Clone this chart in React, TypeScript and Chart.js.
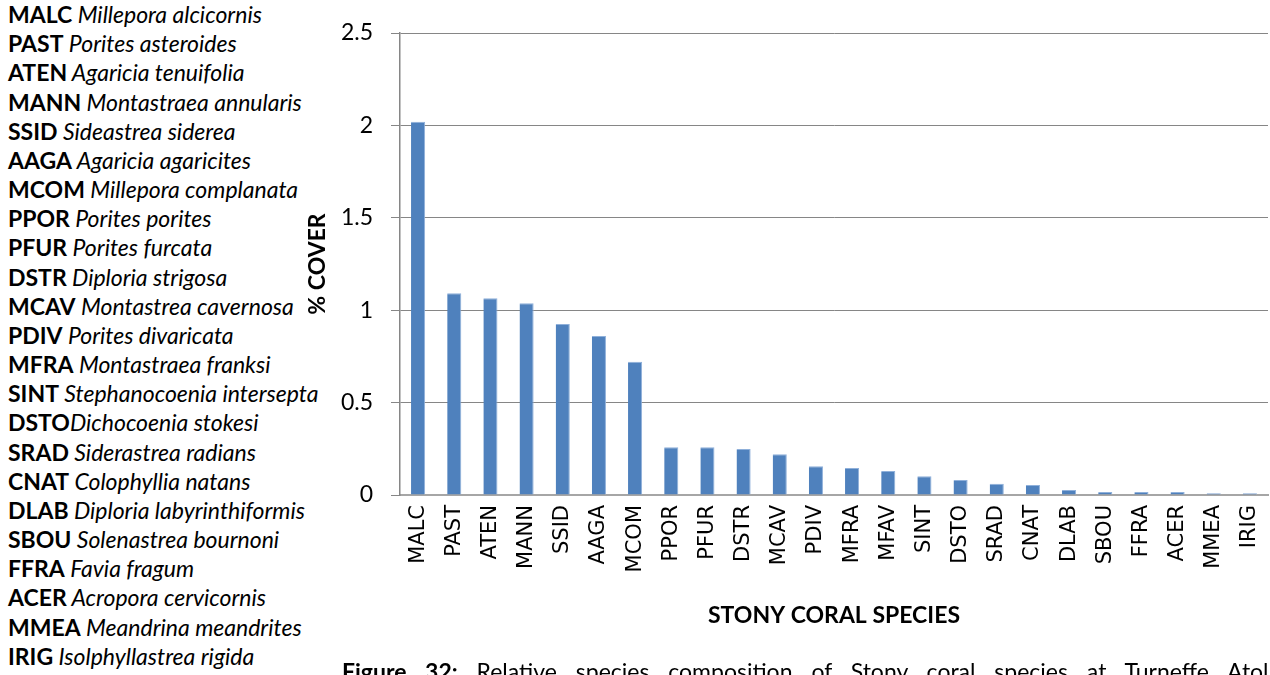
import React, { useEffect, useRef } from "react";
import { Chart, registerables } from "chart.js";

Chart.register(...registerables);

const categories = [
  "MALC", "PAST", "ATEN", "MANN", "SSID", "AAGA", "MCOM", "PPOR", "PFUR", "DSTR", "MCAV", "PDIV",
  "MFRA", "MFAV", "SINT", "DSTO", "SRAD", "CNAT", "DLAB", "SBOU", "FFRA", "ACER", "MMEA", "IRIG",
];

const coverValues = [
  2.02, 1.092, 1.065, 1.038, 0.925, 0.86, 0.721, 0.258, 0.258, 0.249, 0.22, 0.155,
  0.146, 0.13, 0.101, 0.081, 0.061, 0.054, 0.027, 0.016, 0.016, 0.016, 0.01, 0.01,
];

const yTicks = [0, 0.5, 1, 1.5, 2, 2.5];
const yTickLabels = ["0", "0.5", "1", "1.5", "2", "2.5"];

const speciesCodes = [
  "MALC", "PAST", "ATEN", "MANN", "SSID", "AAGA", "MCOM", "PPOR", "PFUR", "DSTR", "MCAV", "PDIV",
  "MFRA", "SINT", "DSTO", "SRAD", "CNAT", "DLAB", "SBOU", "FFRA", "ACER", "MMEA", "IRIG",
];
const speciesNames = [
  " Millepora alcicornis", " Porites asteroides", " Agaricia tenuifolia", " Montastraea annularis",
  " Sideastrea siderea", " Agaricia agaricites", " Millepora complanata", " Porites porites",
  " Porites furcata", " Diploria strigosa", " Montastrea cavernosa", " Porites divaricata",
  " Montastraea franksi", " Stephanocoenia intersepta", "Dichocoenia stokesi", " Siderastrea radians",
  " Colophyllia natans", " Diploria labyrinthiformis", " Solenastrea bournoni", " Favia fragum",
  " Acropora cervicornis", " Meandrina meandrites", " Isolphyllastrea rigida",
];

const yTitle = "% COVER";
const xTitle = "STONY CORAL SPECIES";
const captionBold = "Figure 32:";
const captionText = " Relative species composition of Stony coral species at Turneffe Atoll";

const FONT = "Lato, 'Open Sans', sans-serif";

export default function App() {
  const ref = useRef<HTMLCanvasElement | null>(null);

  useEffect(() => {
    if (!ref.current) return;
    const chart = new Chart(ref.current, {
      type: "bar",
      data: {
        labels: categories,
        datasets: [
          {
            data: coverValues,
            backgroundColor: "#4F81BD",
            borderColor: "#8fb0da",
            borderWidth: { top: 1, right: 1, left: 0, bottom: 0 },
            barPercentage: 0.78,
            categoryPercentage: 0.5,
          },
        ],
      },
      options: {
        animation: false,
        responsive: false,
        devicePixelRatio: 1,
        layout: { padding: { left: 303, top: 33, right: 2, bottom: 0 } },
        plugins: { legend: { display: false }, tooltip: { enabled: false } },
        scales: {
          x: {
            grid: { display: false, drawTicks: false },
            border: { display: true, color: "#a6a6a6", width: 2 },
            ticks: {
              autoSkip: false,
              maxRotation: 90,
              minRotation: 90,
              padding: 10,
              color: "#000",
              font: { family: "'DejaVu Sans', sans-serif", size: 21 },
            },
            title: {
              display: true,
              text: xTitle,
              color: "#000",
              font: { family: FONT, size: 23, weight: "bold" },
              padding: { top: 0, bottom: 46 },
            },
            afterFit: (scale: any) => {
              scale.height = 180;
              scale.paddingLeft = 0;
              scale.paddingRight = 0;
            },
          },
          y: {
            min: 0,
            max: 2.5,
            afterBuildTicks: (scale: any) => {
              scale.ticks = yTicks.map((v) => ({ value: v }));
            },
            ticks: {
              padding: 18,
              color: "#000",
              font: { family: FONT, size: 23 },
              callback: (v: any) => yTickLabels[yTicks.indexOf(Number(v))] ?? "",
            },
            grid: {
              color: "#868686",
              lineWidth: 1,
              tickLength: 9,
              tickColor: "#868686",
            },
            border: { display: true, color: "#868686", width: 1.5 },
            title: {
              display: true,
              text: yTitle,
              color: "#000",
              font: { family: FONT, size: 23, weight: "bold" },
              padding: { top: 1, bottom: 0 },
            },
            afterFit: (scale: any) => {
              scale.width = 97;
              scale.paddingTop = 0;
              scale.paddingBottom = 0;
            },
          },
        },
      },
    });
    return () => chart.destroy();
  }, []);

  return (
    <div
      style={{
        position: "fixed",
        left: 0,
        top: 0,
        width: 1270,
        height: 675,
        overflow: "hidden",
        background: "#fff",
      }}
    >
      <div style={{ position: "absolute", left: 8, top: 0, fontFamily: FONT, fontSize: 23, lineHeight: "29.17px", color: "#000", whiteSpace: "nowrap" }}>
        {speciesCodes.map((c, i) => (
          <div key={c}>
            <b>{c}</b>
            <i>{speciesNames[i]}</i>
          </div>
        ))}
      </div>
      <canvas ref={ref} width={1270} height={675} style={{ position: "absolute", left: 0, top: 0, width: 1270, height: 675 }} />
      <div style={{ position: "absolute", left: 342, top: 660, fontFamily: FONT, fontSize: 23, lineHeight: "23px", color: "#000", whiteSpace: "nowrap", wordSpacing: 13 }}>
        <b>{captionBold}</b>
        {captionText}
      </div>
    </div>
  );
}
